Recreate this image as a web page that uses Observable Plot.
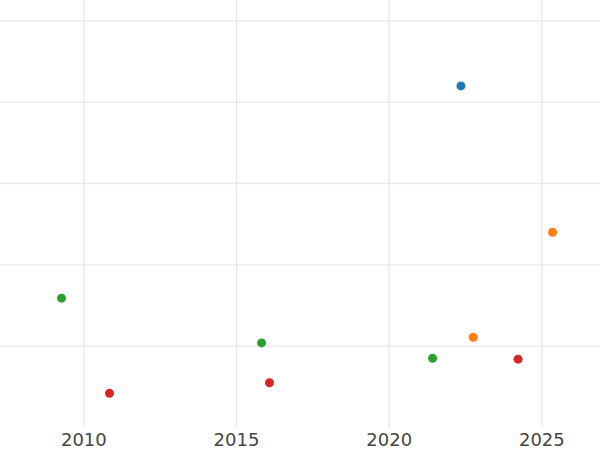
<!DOCTYPE html>
<html>
<head>
<meta charset="utf-8">
<script src="https://cdn.jsdelivr.net/npm/d3@7"></script>
<script src="https://cdn.jsdelivr.net/npm/@observablehq/plot@0.6"></script>
<style>
  html, body { margin: 0; padding: 0; background: #fff; }
</style>
</head>
<body>
<div id="chart"></div>
<script>
const seriesNames = ["A", "B", "C", "D"];
const seriesColors = ["#1f77b4", "#ff7f0e", "#2ca02c", "#d62728"];
const yearsA = [2022.35];
const valuesA = [32.0];
const yearsB = [2025.35, 2022.75];
const valuesB = [14.0, 1.1];
const yearsC = [2009.27, 2015.82, 2021.42];
const valuesC = [5.9, 0.4, -1.5];
const yearsD = [2010.84, 2016.08, 2024.22];
const valuesD = [-5.8, -4.5, -1.6];
const xTicks = [2010, 2015, 2020, 2025];
const yTicks = [0, 10, 20, 30, 40];

const allYears = [yearsA, yearsB, yearsC, yearsD];
const allValues = [valuesA, valuesB, valuesC, valuesD];
const data = [];
seriesNames.forEach((s, i) => {
  allYears[i].forEach((yr, j) => data.push({series: s, year: yr, value: allValues[i][j]}));
});

const chart = Plot.plot({
  width: 600,
  height: 450,
  marginLeft: 0,
  marginRight: 0,
  marginTop: 0,
  marginBottom: 23,
  style: {fontFamily: "DejaVu Sans", background: "#fff"},
  x: {domain: [2007.27, 2026.92], ticks: xTicks, tickFormat: d => String(d)},
  y: {domain: [-10, 42.5], axis: null},
  color: {domain: seriesNames, range: seriesColors},
  marks: [
    Plot.ruleX(xTicks, {stroke: "#e8e8e8", strokeWidth: 1.4}),
    Plot.ruleY(yTicks, {stroke: "#e8e8e8", strokeWidth: 1.4}),
    Plot.axisX({ticks: xTicks, tickSize: 0, tickPadding: 6, fontSize: 18, fill: "#444", label: null, tickFormat: d => String(d)}),
    Plot.dot(data, {x: "year", y: "value", fill: "series", r: 4.5})
  ]
});
document.getElementById("chart").appendChild(chart);
</script>
</body>
</html>
